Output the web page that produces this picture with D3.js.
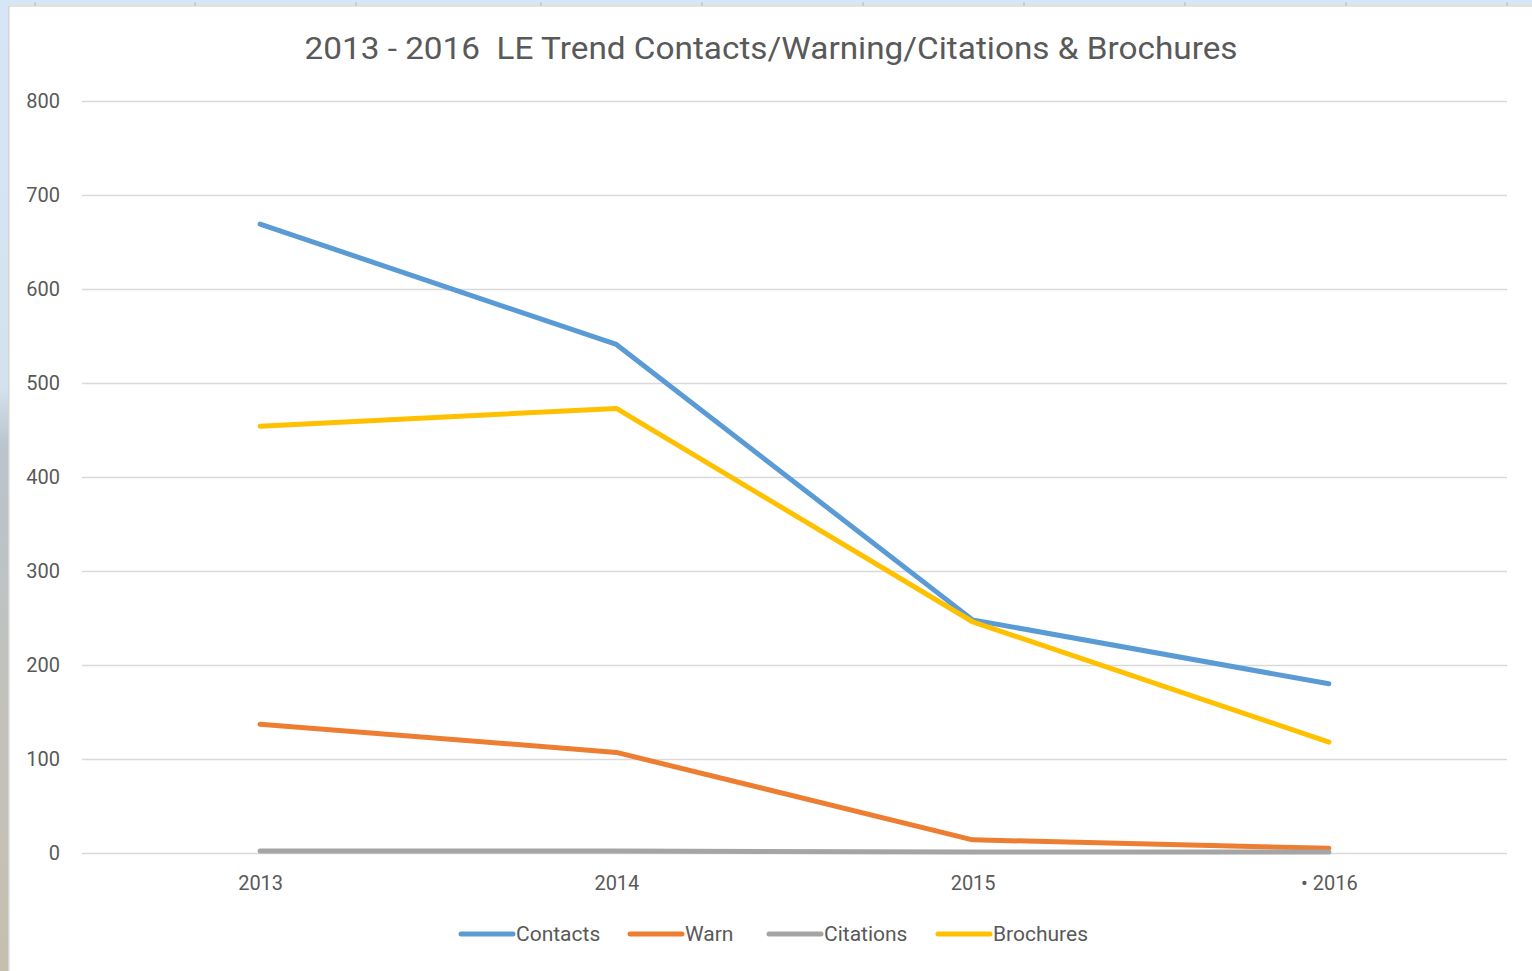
<!DOCTYPE html>
<html>
<head>
<meta charset="utf-8">
<script src="https://cdn.jsdelivr.net/npm/d3@7"></script>
<style>
  body { margin: 0; background: #d6e6f6; }
  svg { display: block; }
</style>
</head>
<body>
<div id="chart"></div>
<script>
const years = ['2013', '2014', '2015', '2016'];
const yearLabels = ['2013', '2014', '2015', '\u2022 2016'];
const contacts = [669, 541, 248, 180];
const warn = [137, 107, 14, 5];
const citations = [2, 2, 1, 1];
const brochures = [454, 473, 246, 118];
const yTicks = [0, 100, 200, 300, 400, 500, 600, 700, 800];

const series = [
  { name: 'Contacts', values: contacts, color: '#5b9bd5' },
  { name: 'Warn', values: warn, color: '#ed7d31' },
  { name: 'Citations', values: citations, color: '#a5a5a5' },
  { name: 'Brochures', values: brochures, color: '#ffc000' },
];

const width = 1532;
const height = 971;
const plot = { left: 82, right: 1507, top: 101, bottom: 853 };
const font = 'Liberation Sans Narrow, Roboto, sans-serif';

const svg = d3.select('#chart').append('svg')
  .attr('width', width)
  .attr('height', height);

// backdrop: spreadsheet strip on top, photo strip at left
const defs = svg.append('defs');
const grad = defs.append('linearGradient')
  .attr('id', 'photo').attr('x1', 0).attr('y1', 0).attr('x2', 0).attr('y2', 1);
grad.append('stop').attr('offset', '0%').attr('stop-color', '#d6e6f6');
grad.append('stop').attr('offset', '40%').attr('stop-color', '#d3e2ee');
grad.append('stop').attr('offset', '46%').attr('stop-color', '#b9c4cc');
grad.append('stop').attr('offset', '70%').attr('stop-color', '#c2c2bd');
grad.append('stop').attr('offset', '100%').attr('stop-color', '#c6bfae');
svg.append('rect').attr('width', 9).attr('height', height).attr('fill', 'url(#photo)');
svg.append('rect').attr('x', 9).attr('y', 0).attr('width', width).attr('height', 4).attr('fill', '#d6e6f6');
svg.append('rect').attr('x', 9).attr('y', 4).attr('width', width).attr('height', 3).attr('fill', '#e2e2e2');
svg.append('g').selectAll('line')
  .data([35, 195, 356, 541, 702, 863, 1024, 1185, 1346, 1507])
  .join('line')
  .attr('x1', (d) => d).attr('x2', (d) => d)
  .attr('y1', 2).attr('y2', 6)
  .attr('stroke', '#b8b8b8');
svg.append('rect').attr('x', 9).attr('y', 7).attr('width', width - 9).attr('height', height - 7).attr('fill', '#ffffff');
svg.append('rect').attr('x', 8).attr('y', 6).attr('width', 1.5).attr('height', height).attr('fill', '#d4d4d4');

const x = d3.scalePoint().domain(years).range([plot.left, plot.right]).padding(0.5);
const y = d3.scaleLinear().domain([0, 800]).range([plot.bottom, plot.top]);

// gridlines + y labels
const yAxis = svg.append('g')
  .attr('transform', `translate(${plot.left},0)`)
  .call(d3.axisLeft(y).tickValues(yTicks).tickSize(-(plot.right - plot.left)).tickPadding(22));
yAxis.select('.domain').remove();
yAxis.selectAll('.tick line').attr('stroke', '#d9d9d9').attr('stroke-width', 1.5);
yAxis.selectAll('.tick text')
  .attr('fill', '#595959')
  .style('font-family', font)
  .style('font-size', '20px');

// x labels
const xAxis = svg.append('g')
  .attr('transform', `translate(0,${plot.bottom})`)
  .call(d3.axisBottom(x).tickSize(0).tickPadding(23).tickFormat((d, i) => yearLabels[i]));
xAxis.select('.domain').remove();
xAxis.selectAll('.tick text')
  .attr('fill', '#595959')
  .style('font-family', font)
  .style('font-size', '20px');

// lines
const line = d3.line()
  .x((d, i) => x(years[i]))
  .y((d) => y(d));
svg.append('g').selectAll('path')
  .data(series)
  .join('path')
  .attr('d', (d) => line(d.values))
  .attr('fill', 'none')
  .attr('stroke', (d) => d.color)
  .attr('stroke-width', 5)
  .attr('stroke-linecap', 'round')
  .attr('stroke-linejoin', 'round');

// title
svg.append('text')
  .attr('x', 771)
  .attr('y', 59)
  .attr('text-anchor', 'middle')
  .attr('fill', '#595959')
  .attr('textLength', 933)
  .attr('lengthAdjust', 'spacingAndGlyphs')
  .style('font-family', font)
  .style('font-size', '32px')
  .style('white-space', 'pre')
  .text('2013 - 2016  LE Trend Contacts/Warning/Citations & Brochures');

// legend
const legendX = [459, 628, 767, 936];
const legend = svg.append('g').selectAll('g')
  .data(series)
  .join('g')
  .attr('transform', (d, i) => `translate(${legendX[i]},934)`);
legend.append('line')
  .attr('x1', 2).attr('x2', 54)
  .attr('stroke', (d) => d.color)
  .attr('stroke-width', 5)
  .attr('stroke-linecap', 'round');
legend.append('text')
  .attr('x', 57)
  .attr('dy', '0.35em')
  .attr('fill', '#595959')
  .style('font-family', font)
  .style('font-size', '21px')
  .text((d) => d.name);
</script>
</body>
</html>
